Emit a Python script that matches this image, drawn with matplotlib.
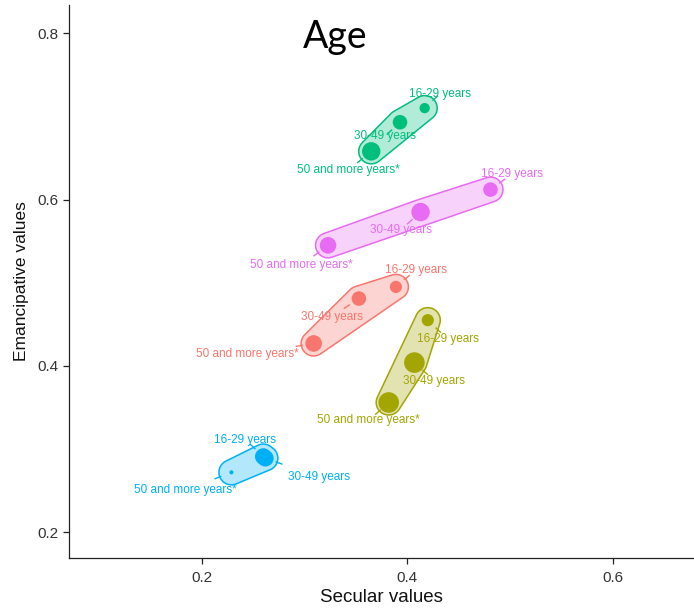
import numpy as np
import matplotlib
matplotlib.use("Agg")
import matplotlib.pyplot as plt
from matplotlib.patches import Polygon

# ---- data -------------------------------------------------------------
age_groups = ["16-29 years", "30-49 years", "50 and more years*"]

cluster_names = ["green", "pink", "red", "olive", "blue"]
colors = ["#00BF7D", "#E76BF3", "#F8766D", "#A3A500", "#00B0F6"]

secular = {
    "green": [0.417, 0.393, 0.365],
    "pink":  [0.481, 0.413, 0.323],
    "red":   [0.389, 0.353, 0.309],
    "olive": [0.420, 0.407, 0.382],
    "blue":  [0.260, 0.262, 0.229],
}
emancipative = {
    "green": [0.710, 0.693, 0.658],
    "pink":  [0.612, 0.585, 0.545],
    "red":   [0.495, 0.481, 0.427],
    "olive": [0.455, 0.404, 0.356],
    "blue":  [0.291, 0.289, 0.272],
}
# relative group weight (drives marker area)
weight = {
    "green": [25, 50, 80],
    "pink":  [50, 80, 65],
    "red":   [35, 50, 65],
    "olive": [35, 100, 100],
    "blue":  [65, 65, 4],
}

# label offsets from each point, in pixels (dx, dy upward)
label_offsets = {
    "green": [(15, 14), (-15, -14), (-23, -19)],
    "pink":  [(22, 16), (-20, -18), (-27, -20)],
    "red":   [(20, 17), (-27, -18), (-66, -11)],
    "olive": [(20, -19), (20, -18), (-20, -18)],
    "blue":  [(-18, 17), (54, -19), (-46, -18)],
}

# ---- figure -----------------------------------------------------------
W, H, DPI = 694, 612, 100
fig = plt.figure(figsize=(W / DPI, H / DPI), dpi=DPI)
ax = fig.add_axes([69 / W, 54 / H, 1 - 69 / W, (558 - 5) / H])
ax.set_xlim(0.071, 0.679)
ax.set_ylim(0.169, 0.834)

for side in ("top", "right"):
    ax.spines[side].set_visible(False)
for side in ("left", "bottom"):
    ax.spines[side].set_linewidth(0.9)
    ax.spines[side].set_color("#222222")

ax.set_xticks([0.2, 0.4, 0.6])
ax.set_yticks([0.2, 0.4, 0.6, 0.8])
ax.set_xticklabels(["0.2", "0.4", "0.6"])
ax.set_yticklabels(["0.2", "0.4", "0.6", "0.8"])
ax.tick_params(axis="both", labelsize=11, labelcolor="#333333",
               color="#222222", length=4, width=0.9)
ax.tick_params(axis="x", pad=5)
ax.set_xlabel("Secular values", fontsize=13.5, family="Liberation Sans",
              color="#111111", labelpad=3)
ax.set_ylabel("Emancipative values", fontsize=12.5, family="Liberation Sans",
              color="#111111", labelpad=6)
for lbl in ax.get_xticklabels() + ax.get_yticklabels():
    lbl.set_family("Liberation Sans")

fig.text(335 / W, 1 - 37 / H, "Age", fontsize=27, family="Lato",
         ha="center", va="center", color="black")


def convex_hull(pts):
    pts = sorted(map(tuple, pts))
    def cross(o, a, b):
        return (a[0] - o[0]) * (b[1] - o[1]) - (a[1] - o[1]) * (b[0] - o[0])
    lower, upper = [], []
    for p in pts:
        while len(lower) >= 2 and cross(lower[-2], lower[-1], p) <= 0:
            lower.pop()
        lower.append(p)
    for p in reversed(pts):
        while len(upper) >= 2 and cross(upper[-2], upper[-1], p) <= 0:
            upper.pop()
        upper.append(p)
    return np.array(lower[:-1] + upper[:-1])


expand = 12.5  # hull padding in pixels
theta = np.linspace(0, 2 * np.pi, 72, endpoint=False)
circle = np.column_stack([np.cos(theta), np.sin(theta)])
to_disp = ax.transData
to_data = ax.transData.inverted()

for name, col in zip(cluster_names, colors):
    xs = np.array(secular[name])
    ys = np.array(emancipative[name])
    disp = to_disp.transform(np.column_stack([xs, ys]))

    # rounded hull around the group
    ring = np.vstack([p + expand * circle for p in disp])
    hull = to_data.transform(convex_hull(ring))
    ax.add_patch(Polygon(hull, closed=True, facecolor=col, alpha=0.3,
                         edgecolor="none", zorder=1))
    ax.add_patch(Polygon(hull, closed=True, facecolor="none",
                         edgecolor=col, lw=1.1, zorder=2))

    sizes = np.array(weight[name]) * 2.2
    ax.scatter(xs, ys, s=sizes, color=col, edgecolor="none", zorder=3)

    for i, age in enumerate(age_groups):
        dx, dy = label_offsets[name][i]
        lx, ly = to_data.transform(disp[i] + np.array([dx, dy]))
        ax.text(lx, ly, age, fontsize=8.5, family="Liberation Sans",
                color=col, ha="center", va="center", zorder=4)
        # short connector from the hull edge toward the label
        d = np.array([dx, dy], dtype=float)
        d /= np.hypot(*d)
        start = disp[i] + d * (expand - 1)
        end = disp[i] + d * (expand + 5)
        seg = to_data.transform(np.vstack([start, end]))
        ax.plot(seg[:, 0], seg[:, 1], color=col, lw=1.0, zorder=2)

fig.savefig("out.png", dpi=DPI)
